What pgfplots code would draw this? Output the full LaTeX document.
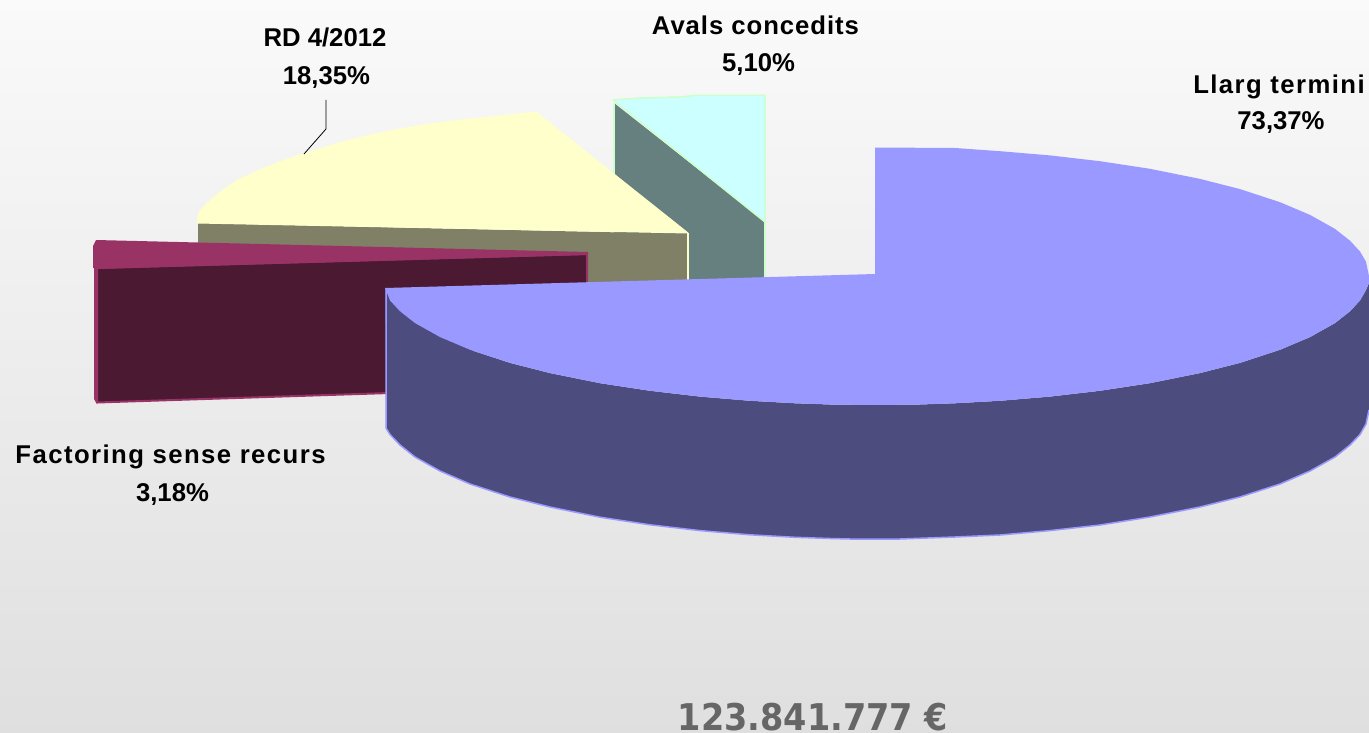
\documentclass[border=0pt]{standalone}
\usepackage{fontspec}
\usepackage{pgfplots}
\pgfplotsset{compat=1.18}
\setmainfont{Liberation Sans}
\newfontface\labA[LetterSpace=5.6]{Liberation Sans Bold}
\newfontface\labB[LetterSpace=3.7]{Liberation Sans Bold}
\newfontface\labC{Liberation Sans Bold}
\newfontface\totalfont{DejaVu Sans Bold}

\definecolor{bluetop}{HTML}{9999FF}
\definecolor{blueside}{HTML}{4C4C7F}
\definecolor{yellowtop}{HTML}{FFFFCC}
\definecolor{yellowside}{HTML}{808066}
\definecolor{maroontop}{HTML}{993366}
\definecolor{maroonside}{HTML}{4C1933}
\definecolor{cyantop}{HTML}{CCFFFF}
\definecolor{cyanside}{HTML}{668080}
\definecolor{cyanedge}{HTML}{CCFFCC}
\definecolor{totalgrey}{HTML}{666666}

\begin{document}
\begin{tikzpicture}
\begin{axis}[
    scale only axis,
    width=1369pt,
    height=733pt,
    xmin=0, xmax=1369,
    ymin=0, ymax=733,
    y dir=reverse,
    ticks=none,
    axis line style={draw=none},
    axis background/.style={top color=black!2, bottom color=black!12.5},
    every axis plot/.append style={line join=round},
    clip=true,
  ]
  % Avals concedits: side, then top
  \addplot[fill=cyanside, draw=none] coordinates {
    (614,103) (765,222) (765,279) (614,282)
  } --cycle;
  \addplot[cyanedge, line width=1.5pt] coordinates {(614,103) (614,178)};
  \addplot[cyanedge, line width=1.5pt] coordinates {(765,222) (765,279)};
  \addplot[fill=cyantop, draw=cyanedge, line width=1.5pt] coordinates {
    (613,100) (640,98) (680,97) (695,95.5) (765,95.5) (765,222)
  } --cycle;

  % RD 4/2012
  \addplot[fill=yellowside, draw=none] coordinates {
    (198,223) (688,234) (688,285) (198,285)
  } --cycle;
  \addplot[yellowtop, line width=1.5pt] coordinates {(688,233) (688,281)};
  \addplot[fill=yellowtop, draw=yellowtop, line width=1pt] coordinates {
    (197,223) (199,212) (210,200.5) (223,190) (238,180) (254,172.5) (278,162.5)
    (304,153.5) (337,143.5) (370,135) (400,129) (429,124) (460,120) (491,117)
    (536,112) (688,233)
  } --cycle;
  \addplot[black, line width=0.8pt] coordinates {(326,100) (326,129) (304,154)};

  % Factoring sense recurs
  \addplot[fill=maroonside, draw=maroontop, line width=2pt] coordinates {
    (96,268) (587,254) (587,290) (390,393) (97,402.5)
  } --cycle;
  \addplot[fill=maroontop, draw=none] coordinates {
    (94,268) (98,269) (98,402) (97,404) (94,399)
  } --cycle;
  \addplot[fill=maroontop, draw=none] coordinates {
    (96,240) (588,252) (588,255) (98,269) (93,268) (93,246)
  } --cycle;

  % Llarg termini: side
  \addplot[fill=blueside, draw=none] coordinates {
    (385,288) (390,300.5) (400,311.3) (415,323.1) (440,337.1) (470,349.8)
    (510,362.9) (550,373.1) (600,383.2) (650,390.8) (700,396.6) (750,400.8)
    (795,403.3) (830,404.5) (875,405) (920,404.5) (955,403.3) (1000,400.8)
    (1050,396.6) (1100,390.8) (1150,383.2) (1200,373.1) (1240,362.9)
    (1280,349.8) (1310,337.1) (1335,323.1) (1350,311.3) (1360,300.5)
    (1366,290) (1369,283) (1369,410) (1366,424) (1360,434.5) (1350,445)
    (1335,457) (1310,471) (1280,484) (1240,497) (1200,507) (1150,517)
    (1100,525) (1050,530.6) (1000,535) (955,537) (900,539) (850,539)
    (830,538.5) (795,537.3) (750,534.8) (700,530.6) (650,524.8) (600,517.2)
    (550,507) (510,497) (470,484) (440,471) (415,457) (400,445) (390,434.5)
    (386,428)
  } --cycle;
  \addplot[bluetop, line width=1.5pt] coordinates {
    (386,288) (386,428) (390,434.5) (400,445) (415,457) (440,471) (470,484)
    (510,497) (550,507) (600,517.2) (650,524.8) (700,530.6) (750,534.8)
    (795,537.3) (830,538.5) (850,539) (900,539) (955,537) (1000,535)
    (1050,530.6) (1100,525) (1150,517) (1200,507) (1240,497) (1280,484)
    (1310,471) (1335,457) (1350,445) (1360,434.5) (1366,424) (1369,410)
  };
  % Llarg termini: top
  \addplot[fill=bluetop, draw=none] coordinates {
    (875,274) (875,147.5) (955,148) (1000,151.2) (1050,155.4) (1100,161.2)
    (1150,168.8) (1200,178.9) (1240,189.1) (1280,202.2) (1310,214.9)
    (1335,228.9) (1350,240.7) (1360,251.5) (1366,261.8) (1369,276) (1369,283)
    (1366,290) (1360,300.5) (1350,311.3) (1335,323.1) (1310,337.1) (1280,349.8)
    (1240,362.9) (1200,373.1) (1150,383.2) (1100,390.8) (1050,396.6)
    (1000,400.8) (955,403.3) (920,404.5) (875,405) (830,404.5) (795,403.3)
    (750,400.8) (700,396.6) (650,390.8) (600,383.2) (550,373.1) (510,362.9)
    (470,349.8) (440,337.1) (415,323.1) (400,311.3) (390,300.5) (385,288)
  } --cycle;

  \node[anchor=base] at (axis cs:325,46.5) {\fontsize{25.7pt}{30pt}\labC RD 4/2012};
  \node[anchor=base] at (axis cs:326.5,85) {\fontsize{25.7pt}{30pt}\labC 18,35\%};
  \node[anchor=base] at (axis cs:755.5,35) {\fontsize{25.7pt}{30pt}\labB Avals concedits};
  \node[anchor=base] at (axis cs:758.5,72) {\fontsize{25.7pt}{30pt}\labC 5,10\%};
  \node[anchor=base] at (axis cs:1279,94) {\fontsize{25.7pt}{30pt}\labA Llarg termini};
  \node[anchor=base] at (axis cs:1281,130) {\fontsize{25.7pt}{30pt}\labC 73,37\%};
  \node[anchor=base] at (axis cs:170.5,463.5) {\fontsize{25.7pt}{30pt}\labA Factoring sense recurs};
  \node[anchor=base] at (axis cs:172.5,501.5) {\fontsize{25.7pt}{30pt}\labC 3,18\%};
  \node[anchor=base, inner sep=0pt, text=totalgrey] at (axis cs:813,730)
    {\scalebox{1}[1.1]{\fontsize{33.5pt}{38pt}\totalfont 123.841.777 €}};
\end{axis}
\pgfresetboundingbox
\path[use as bounding box] (0,0) rectangle (1369pt,733pt);
\end{tikzpicture}
\end{document}
